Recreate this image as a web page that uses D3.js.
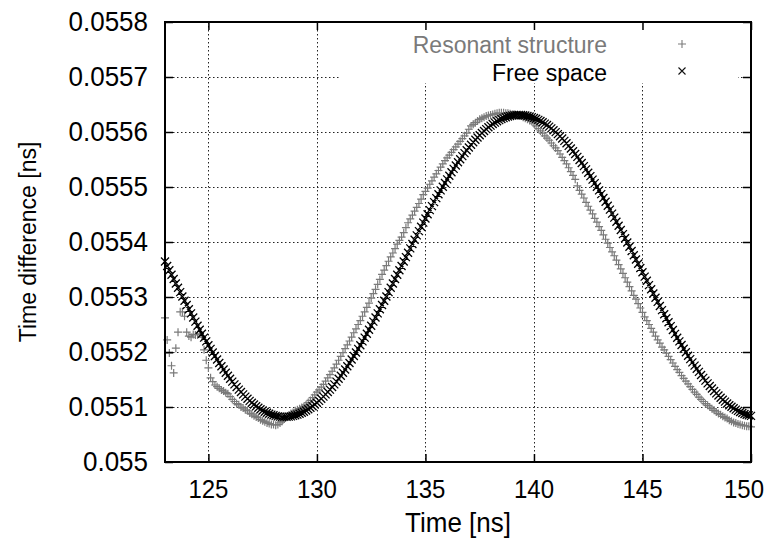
<html><head><meta charset="utf-8"><title>Time difference</title>
<style>
  body { margin: 0; background: #fff; }
  text { font-family: 'Liberation Sans', Arial, sans-serif; }
</style>
</head>
<body>
<svg id="chart" width="765" height="543"></svg>
<script src="https://cdn.jsdelivr.net/npm/d3@7"></script>
<script>
// sample times [ns]
const times = [
  123.0,123.1,123.2,123.3,123.4,123.5,123.6,123.7,123.8,123.9,
  124.0,124.1,124.2,124.3,124.4,124.5,124.6,124.7,124.8,124.9,
  125.0,125.1,125.2,125.3,125.4,125.5,125.6,125.7,125.8,125.9,
  126.0,126.1,126.2,126.3,126.4,126.5,126.6,126.7,126.8,126.9,
  127.0,127.1,127.2,127.3,127.4,127.5,127.6,127.7,127.8,127.9,
  128.0,128.1,128.2,128.3,128.4,128.5,128.6,128.7,128.8,128.9,
  129.0,129.1,129.2,129.3,129.4,129.5,129.6,129.7,129.8,129.9,
  130.0,130.1,130.2,130.3,130.4,130.5,130.6,130.7,130.8,130.9,
  131.0,131.1,131.2,131.3,131.4,131.5,131.6,131.7,131.8,131.9,
  132.0,132.1,132.2,132.3,132.4,132.5,132.6,132.7,132.8,132.9,
  133.0,133.1,133.2,133.3,133.4,133.5,133.6,133.7,133.8,133.9,
  134.0,134.1,134.2,134.3,134.4,134.5,134.6,134.7,134.8,134.9,
  135.0,135.1,135.2,135.3,135.4,135.5,135.6,135.7,135.8,135.9,
  136.0,136.1,136.2,136.3,136.4,136.5,136.6,136.7,136.8,136.9,
  137.0,137.1,137.2,137.3,137.4,137.5,137.6,137.7,137.8,137.9,
  138.0,138.1,138.2,138.3,138.4,138.5,138.6,138.7,138.8,138.9,
  139.0,139.1,139.2,139.3,139.4,139.5,139.6,139.7,139.8,139.9,
  140.0,140.1,140.2,140.3,140.4,140.5,140.6,140.7,140.8,140.9,
  141.0,141.1,141.2,141.3,141.4,141.5,141.6,141.7,141.8,141.9,
  142.0,142.1,142.2,142.3,142.4,142.5,142.6,142.7,142.8,142.9,
  143.0,143.1,143.2,143.3,143.4,143.5,143.6,143.7,143.8,143.9,
  144.0,144.1,144.2,144.3,144.4,144.5,144.6,144.7,144.8,144.9,
  145.0,145.1,145.2,145.3,145.4,145.5,145.6,145.7,145.8,145.9,
  146.0,146.1,146.2,146.3,146.4,146.5,146.6,146.7,146.8,146.9,
  147.0,147.1,147.2,147.3,147.4,147.5,147.6,147.7,147.8,147.9,
  148.0,148.1,148.2,148.3,148.4,148.5,148.6,148.7,148.8,148.9,
  149.0,149.1,149.2,149.3,149.4,149.5,149.6,149.7,149.8,149.9,
  150.0
];

// time difference [ns], resonant structure
const resonant = [
  0.055262,0.055222,0.055198,0.055175,0.055162,0.055207,0.055236,0.055273,0.055273,0.055265,
  0.055236,0.055229,0.055227,0.055232,0.055231,0.055231,0.055233,0.055227,0.055204,0.055185,
  0.055171,0.055153,0.055146,0.055140,0.055137,0.055134,0.055131,0.055129,0.055126,0.055124,
  0.055119,0.055114,0.055110,0.055106,0.055104,0.055100,0.055098,0.055095,0.055093,0.055089,
  0.055087,0.055084,0.055082,0.055080,0.055077,0.055075,0.055073,0.055071,0.055070,0.055068,
  0.055068,0.055067,0.055068,0.055071,0.055074,0.055078,0.055082,0.055085,0.055088,0.055090,
  0.055093,0.055095,0.055097,0.055099,0.055101,0.055104,0.055108,0.055112,0.055117,0.055122,
  0.055127,0.055131,0.055136,0.055141,0.055147,0.055153,0.055159,0.055165,0.055171,0.055178,
  0.055185,0.055192,0.055199,0.055206,0.055213,0.055220,0.055227,0.055235,0.055242,0.055250,
  0.055257,0.055265,0.055273,0.055281,0.055289,0.055298,0.055306,0.055314,0.055323,0.055332,
  0.055341,0.055349,0.055357,0.055365,0.055373,0.055380,0.055388,0.055396,0.055403,0.055409,
  0.055417,0.055426,0.055435,0.055442,0.055449,0.055456,0.055463,0.055470,0.055478,0.055486,
  0.055492,0.055498,0.055505,0.055511,0.055518,0.055524,0.055530,0.055536,0.055542,0.055548,
  0.055553,0.055558,0.055563,0.055568,0.055573,0.055578,0.055583,0.055588,0.055593,0.055598,
  0.055605,0.055611,0.055614,0.055617,0.055620,0.055623,0.055625,0.055627,0.055629,0.055630,
  0.055631,0.055632,0.055633,0.055634,0.055635,0.055635,0.055635,0.055634,0.055634,0.055633,
  0.055632,0.055632,0.055631,0.055630,0.055629,0.055627,0.055625,0.055623,0.055621,0.055619,
  0.055615,0.055611,0.055606,0.055602,0.055598,0.055593,0.055589,0.055585,0.055580,0.055575,
  0.055571,0.055566,0.055560,0.055554,0.055548,0.055542,0.055535,0.055528,0.055521,0.055514,
  0.055502,0.055494,0.055487,0.055480,0.055472,0.055465,0.055458,0.055451,0.055443,0.055436,
  0.055428,0.055421,0.055413,0.055405,0.055398,0.055390,0.055382,0.055375,0.055367,0.055359,
  0.055351,0.055343,0.055335,0.055327,0.055319,0.055311,0.055303,0.055296,0.055288,0.055280,
  0.055272,0.055264,0.055257,0.055250,0.055243,0.055236,0.055229,0.055222,0.055216,0.055209,
  0.055204,0.055198,0.055192,0.055186,0.055180,0.055174,0.055168,0.055163,0.055157,0.055152,
  0.055147,0.055142,0.055137,0.055132,0.055127,0.055123,0.055118,0.055114,0.055110,0.055106,
  0.055103,0.055100,0.055097,0.055094,0.055091,0.055088,0.055086,0.055083,0.055081,0.055079,
  0.055076,0.055074,0.055072,0.055071,0.055069,0.055068,0.055067,0.055066,0.055065,0.055065,
  0.055064
];

// time difference [ns], free space
const freeSpace = [
  0.0553645,0.0553565,0.0553485,0.0553405,0.0553326,0.0553246,0.0553167,0.0553088,0.0553010,0.0552932,
  0.0552855,0.0552778,0.0552702,0.0552626,0.0552552,0.0552478,0.0552405,0.0552333,0.0552262,0.0552193,
  0.0552124,0.0552057,0.0551991,0.0551926,0.0551863,0.0551801,0.0551740,0.0551681,0.0551624,0.0551568,
  0.0551514,0.0551462,0.0551412,0.0551363,0.0551316,0.0551272,0.0551229,0.0551188,0.0551149,0.0551112,
  0.0551077,0.0551045,0.0551014,0.0550986,0.0550959,0.0550935,0.0550914,0.0550894,0.0550877,0.0550862,
  0.0550849,0.0550839,0.0550830,0.0550825,0.0550821,0.0550820,0.0550821,0.0550825,0.0550830,0.0550839,
  0.0550849,0.0550862,0.0550877,0.0550894,0.0550914,0.0550935,0.0550959,0.0550986,0.0551014,0.0551045,
  0.0551077,0.0551112,0.0551149,0.0551188,0.0551229,0.0551272,0.0551316,0.0551363,0.0551412,0.0551462,
  0.0551514,0.0551568,0.0551624,0.0551681,0.0551740,0.0551801,0.0551863,0.0551926,0.0551991,0.0552057,
  0.0552124,0.0552193,0.0552262,0.0552333,0.0552405,0.0552478,0.0552552,0.0552626,0.0552702,0.0552778,
  0.0552855,0.0552932,0.0553010,0.0553088,0.0553167,0.0553246,0.0553326,0.0553405,0.0553485,0.0553565,
  0.0553645,0.0553725,0.0553804,0.0553884,0.0553963,0.0554042,0.0554120,0.0554198,0.0554276,0.0554352,
  0.0554428,0.0554504,0.0554579,0.0554652,0.0554725,0.0554797,0.0554868,0.0554938,0.0555006,0.0555073,
  0.0555139,0.0555204,0.0555268,0.0555330,0.0555390,0.0555449,0.0555506,0.0555562,0.0555616,0.0555668,
  0.0555718,0.0555767,0.0555814,0.0555858,0.0555901,0.0555942,0.0555981,0.0556018,0.0556053,0.0556086,
  0.0556116,0.0556145,0.0556171,0.0556195,0.0556216,0.0556236,0.0556253,0.0556268,0.0556281,0.0556291,
  0.0556300,0.0556305,0.0556309,0.0556310,0.0556309,0.0556306,0.0556300,0.0556292,0.0556282,0.0556270,
  0.0556256,0.0556240,0.0556221,0.0556201,0.0556178,0.0556153,0.0556126,0.0556097,0.0556066,0.0556033,
  0.0555998,0.0555961,0.0555922,0.0555882,0.0555839,0.0555795,0.0555748,0.0555701,0.0555651,0.0555600,
  0.0555547,0.0555492,0.0555436,0.0555379,0.0555320,0.0555259,0.0555197,0.0555134,0.0555070,0.0555004,
  0.0554938,0.0554870,0.0554801,0.0554731,0.0554660,0.0554588,0.0554516,0.0554443,0.0554369,0.0554294,
  0.0554219,0.0554143,0.0554067,0.0553991,0.0553914,0.0553836,0.0553759,0.0553681,0.0553604,0.0553526,
  0.0553449,0.0553371,0.0553294,0.0553216,0.0553140,0.0553063,0.0552987,0.0552911,0.0552836,0.0552761,
  0.0552687,0.0552614,0.0552542,0.0552470,0.0552399,0.0552329,0.0552260,0.0552193,0.0552126,0.0552060,
  0.0551996,0.0551933,0.0551871,0.0551811,0.0551752,0.0551694,0.0551638,0.0551583,0.0551530,0.0551479,
  0.0551430,0.0551382,0.0551335,0.0551291,0.0551248,0.0551208,0.0551169,0.0551132,0.0551097,0.0551064,
  0.0551033,0.0551004,0.0550977,0.0550952,0.0550929,0.0550909,0.0550890,0.0550874,0.0550860,0.0550848,
  0.0550838
];

const xTicks = [125, 130, 135, 140, 145, 150];
const xTickLabels = ["125", "130", "135", "140", "145", "150"];
const yTicks = [0.055, 0.0551, 0.0552, 0.0553, 0.0554, 0.0555, 0.0556, 0.0557, 0.0558];
const yTickLabels = ["0.055", "0.0551", "0.0552", "0.0553", "0.0554", "0.0555", "0.0556", "0.0557", "0.0558"];
const seriesNames = ["Resonant structure", "Free space"];

const svg = d3.select("#chart");
const plotL = 165, plotR = 751, plotT = 22, plotB = 462;
const stretch = 1.04;

const x = d3.scaleLinear().domain([123, 150]).range([plotL, plotR]);
const y = d3.scaleLinear().domain([0.055, 0.0558]).range([plotB, plotT]);

function label(str, px, py, size, anchor, fill, rot) {
  return svg.append("text")
    .attr("transform", `translate(${px},${py}) rotate(${rot || 0}) scale(1,${stretch})`)
    .attr("text-anchor", anchor)
    .attr("font-size", size)
    .attr("fill", fill || "#000")
    .text(str);
}

// grid
const grid = svg.append("g")
  .attr("stroke", "#222").attr("stroke-width", 1).attr("stroke-dasharray", "1.5,2.5");
grid.selectAll("line.gx").data(xTicks.filter(d => d < 150)).enter().append("line")
  .attr("x1", d => Math.round(x(d)) + 0.5).attr("x2", d => Math.round(x(d)) + 0.5)
  .attr("y1", plotT).attr("y2", plotB);
grid.selectAll("line.gy").data(yTicks.filter(d => d > 0.055 && d < 0.0558)).enter().append("line")
  .attr("y1", d => Math.round(y(d)) + 0.5).attr("y2", d => Math.round(y(d)) + 0.5)
  .attr("x1", plotL).attr("x2", plotR);

// opaque key box
svg.append("rect").attr("x", 341).attr("y", plotT).attr("width", 397).attr("height", 61).attr("fill", "#fff");

// markers
function plusPath(px, py, s) {
  return `M${px - s},${py}H${px + s}M${px},${py - s}V${py + s}`;
}
function crossPath(px, py, s) {
  return `M${px - s},${py - s}L${px + s},${py + s}M${px - s},${py + s}L${px + s},${py - s}`;
}

svg.append("path")
  .attr("d", times.map((t, i) => plusPath(x(t), y(resonant[i]), 4)).join(""))
  .attr("stroke", "#7a7a7a").attr("stroke-width", 1.2).attr("fill", "none");
svg.append("path")
  .attr("d", times.map((t, i) => crossPath(x(t), y(freeSpace[i]), 4)).join(""))
  .attr("stroke", "#000").attr("stroke-width", 1.3).attr("fill", "none");

// ticks on all four sides, pointing inward
svg.append("g").attr("transform", `translate(0,${plotB})`)
  .call(d3.axisBottom(x).tickValues(xTicks).tickSize(-8).tickFormat(""));
svg.append("g").attr("transform", `translate(0,${plotT})`)
  .call(d3.axisTop(x).tickValues(xTicks).tickSize(-8).tickFormat(""));
svg.append("g").attr("transform", `translate(${plotL},0)`)
  .call(d3.axisLeft(y).tickValues(yTicks).tickSize(-8).tickFormat(""));
svg.append("g").attr("transform", `translate(${plotR},0)`)
  .call(d3.axisRight(y).tickValues(yTicks).tickSize(-8).tickFormat(""));
svg.selectAll(".domain").remove();
svg.selectAll(".tick line").attr("stroke", "#000").attr("stroke-width", 1.5);

svg.append("rect").attr("x", plotL).attr("y", plotT).attr("width", plotR - plotL).attr("height", plotB - plotT)
  .attr("fill", "none").attr("stroke", "#000").attr("stroke-width", 2);

// tick labels
xTicks.forEach((d, i) => {
  const t = label(xTickLabels[i], x(d), 498, 24, "middle");
  const w = t.node().getComputedTextLength();
  if (x(d) + w / 2 > 764) t.attr("text-anchor", "end").attr("transform", `translate(764,498) scale(1,${stretch})`);
});
yTicks.forEach((d, i) => label(yTickLabels[i], 148, y(d) + 9, 26, "end"));

// axis titles
label("Time [ns]", 458, 532, 26, "middle");
label("Time difference [ns]", 36, 242, 23, "middle", "#000", -90);

// key
label(seriesNames[0], 607, 53, 23, "end", "#7a7a7a");
label(seriesNames[1], 607, 80.5, 23, "end", "#000");
svg.append("path").attr("d", plusPath(682, 44, 4)).attr("stroke", "#7a7a7a").attr("stroke-width", 1.1);
svg.append("path").attr("d", crossPath(682, 71, 3.5)).attr("stroke", "#111").attr("stroke-width", 1.1);
</script>
</body></html>
